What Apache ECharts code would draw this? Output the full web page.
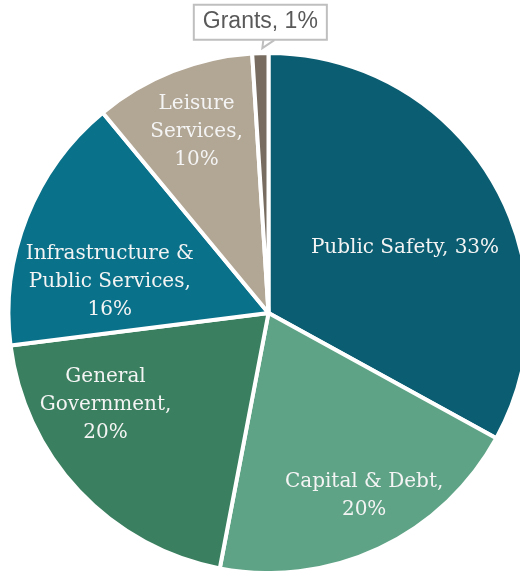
<!DOCTYPE html>
<html>
<head>
<meta charset="utf-8">
<script src="https://cdn.jsdelivr.net/npm/echarts@6/dist/echarts.min.js"></script>
<style>
  html, body { margin: 0; padding: 0; background: #ffffff; }
  #chart { width: 520px; height: 571px; }
</style>
</head>
<body>
<div id="chart"></div>
<script>
// Budget share by category (percent), clockwise from 12 o'clock
const categories = ['Public Safety', 'Capital & Debt', 'General Government',
  'Infrastructure & Public Services', 'Leisure Services', 'Grants'];
const shares = [33, 20, 20, 16, 10, 1];

// Wrapped label text shown on each slice
const labelNames = ['Public Safety', 'Capital & Debt', 'General\nGovernment',
  'Infrastructure &\nPublic Services', 'Leisure\nServices', 'Grants'];
const labelSeparators = [', ', ',\n', ',\n', ',\n', ',\n', ', '];

const sliceColors = ['#0b5d71', '#5fa386', '#3a7f5f', '#0a718a', '#b2a694', '#776c5f'];

// Nudges for the inside labels, in px
const labelShift = [[22, 2], [39, 62], [-66, 1], [-35, 18], [-23, -58]];

const chart = echarts.init(document.getElementById('chart'), null, { renderer: 'canvas' });

const insideLabel = {
  show: true,
  position: 'inside',
  fontFamily: 'DejaVu Serif',
  fontSize: 20,
  lineHeight: 28,
  color: '#f4f4f4',
  align: 'center'
};

const grantsLabel = {
  show: true,
  position: 'outside',
  fontFamily: 'Liberation Sans, Arial, sans-serif',
  fontSize: 23,
  lineHeight: 26,
  color: '#595959',
  backgroundColor: '#ffffff',
  borderColor: '#bfbfbf',
  borderWidth: 2,
  padding: [4, 8, 3, 8]
};

const data = categories.map((name, i) => {
  const item = {
    name: name,
    value: shares[i],
    itemStyle: { color: sliceColors[i] }
  };
  if (i === categories.length - 1) {
    item.label = grantsLabel;
    item.labelLine = { show: true, length: 6, length2: 0, lineStyle: { color: '#bfbfbf', width: 2 } };
  } else {
    item.label = insideLabel;
    item.labelLine = { show: false };
  }
  return item;
});

chart.setOption({
  backgroundColor: '#ffffff',
  animation: false,
  series: [{
    type: 'pie',
    center: [268.5, 313],
    radius: [0, 260],
    startAngle: 90,
    clockwise: true,
    avoidLabelOverlap: false,
    itemStyle: { borderColor: '#ffffff', borderWidth: 4 },
    emphasis: { disabled: true },
    label: {
      formatter: (p) => labelNames[p.dataIndex] + labelSeparators[p.dataIndex] + p.value + '%'
    },
    labelLayout: (p) => {
      if (p.dataIndex < labelShift.length) {
        return { dx: labelShift[p.dataIndex][0], dy: labelShift[p.dataIndex][1] };
      }
      // callout box above the thin slice, wedge pointing down to its rim
      const s = p.labelLinePoints ? p.labelLinePoints[0] : [260, 53];
      return {
        x: s[0],
        y: s[1] - 31,
        align: 'center',
        verticalAlign: 'middle',
        labelLinePoints: [[s[0] + 14, s[1] - 13], [s[0] + 2, s[1] - 5], [s[0] + 3, s[1] - 13]]
      };
    },
    data: data
  }]
});
</script>
</body>
</html>
